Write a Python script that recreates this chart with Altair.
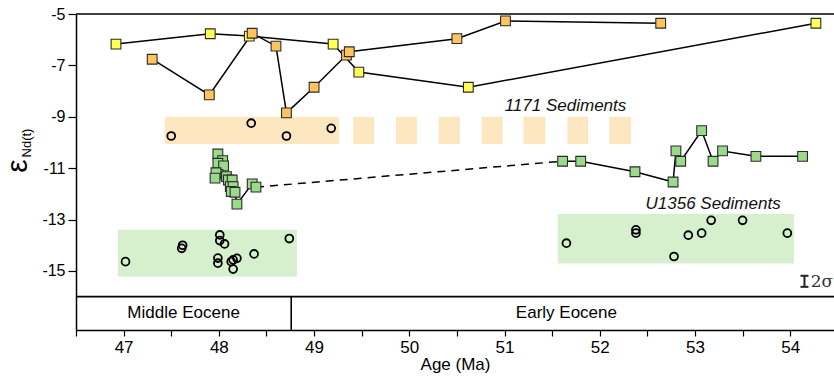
import altair as alt
import pandas as pd

# ---------------- data ----------------
yellow_age = [46.92, 47.91, 48.32, 49.20, 49.47, 50.62, 54.27]
yellow_eps = [-6.17, -5.77, -5.86, -6.17, -7.26, -7.85, -5.36]

orange_age = [47.30, 47.90, 48.35, 48.60, 48.71, 49.00, 49.34, 49.37, 50.50, 51.01, 52.64]
orange_eps = [-6.76, -8.15, -5.75, -6.25, -8.85, -7.85, -6.60, -6.47, -5.96, -5.27, -5.36]

cluster_age = [47.99, 48.04, 47.99, 48.05, 47.99, 47.97, 47.96, 48.08, 48.10, 48.14,
               48.12, 48.15, 48.13, 48.17, 48.19, 48.35, 48.39]
cluster_eps = [-10.45, -10.71, -10.81, -10.91, -11.24, -11.18, -11.39, -11.33, -11.46, -11.46,
               -11.72, -11.72, -11.91, -11.94, -12.40, -11.61, -11.74]

green_age = [51.61, 51.80, 52.37, 52.77, 52.80, 52.85, 53.07, 53.19, 53.29, 53.64, 54.13]
green_eps = [-10.73, -10.73, -11.14, -11.54, -10.33, -10.73, -9.54, -10.73, -10.33, -10.54, -10.54]

dash_age = [48.39, 51.61]
dash_eps = [-11.74, -10.73]

c1171_age = [47.50, 48.34, 48.71, 49.18]
c1171_eps = [-9.75, -9.25, -9.75, -9.45]

cl_age = [47.02, 47.61, 47.62, 48.01, 48.01, 48.06, 47.99, 47.99, 48.13, 48.15, 48.19, 48.15, 48.37, 48.74]
cl_eps = [-14.64, -14.12, -14.00, -13.60, -13.82, -13.95, -14.50, -14.70, -14.64, -14.57, -14.51, -14.93, -14.34, -13.74]

cr_age = [51.65, 52.38, 52.38, 52.93, 53.07, 53.17, 53.50, 53.97, 52.78]
cr_eps = [-13.92, -13.40, -13.53, -13.61, -13.53, -13.03, -13.03, -13.53, -14.44]

# shaded ranges
band_x1 = [47.43, 49.41, 49.86, 50.31, 50.76, 51.20, 51.66, 52.10, 46.94, 51.56]
band_x2 = [49.26, 49.63, 50.08, 50.53, 50.98, 51.43, 51.88, 52.33, 48.82, 54.04]
band_y1 = [-9.0] * 8 + [-13.40, -12.78]
band_y2 = [-10.06] * 8 + [-15.22, -14.71]
band_col = ["#FDE7C0"] * 8 + ["#D6F0CE", "#D6F0CE"]

epoch_names = ["Middle Eocene", "Early Eocene"]
epoch_mid = [47.63, 51.65]
epoch_boundary = 48.76

label_names = ["1171 Sediments", "U1356 Sediments"]
label_age = [51.64, 53.19]
label_eps = [-8.58, -12.39]

err_age = 54.15
err_lo, err_hi = -15.62, -15.19

x_ticks = [46.5 + 0.5 * i for i in range(16)]
y_ticks = [-5, -7, -9, -11, -13, -15]

# ---------------- scales / axes ----------------
FONT = "Liberation Sans"
X_DOM = [46.5, 54.46]
Y_DOM = [-17.3, -5]
xs = alt.Scale(domain=X_DOM, nice=False, zero=False)
ys = alt.Scale(domain=Y_DOM, nice=False, zero=False)

x_axis = alt.Axis(values=x_ticks,
                  labelExpr="datum.value % 1 == 0 ? format(datum.value, 'd') : ''",
                  title="Age (Ma)", grid=False, tickSize=6, labelFontSize=17, titleFontSize=17,
                  titleFontWeight="normal", labelPadding=3, titlePadding=1,
                  domainColor="black", tickColor="black", domainWidth=1.5, tickWidth=1.2,
                  labelColor="black", titleColor="black", labelFont=FONT, titleFont=FONT)
y_axis = alt.Axis(values=y_ticks, labelExpr="'-' + abs(datum.value)", title=None, grid=False,
                  tickSize=8, labelFontSize=16, labelPadding=3,
                  domainColor="black", tickColor="black", domainWidth=1.5, tickWidth=1.2,
                  labelColor="black", labelFont=FONT)


def X(f):
    return alt.X(f, type="quantitative", scale=xs, axis=x_axis)


def Y(f):
    return alt.Y(f, type="quantitative", scale=ys, axis=y_axis)


# ---------------- layers ----------------
bands = pd.DataFrame({"x": band_x1, "x2": band_x2, "y": band_y1, "y2": band_y2, "c": band_col})
band_layer = alt.Chart(bands).mark_rect().encode(
    x=X("x"), x2="x2", y=Y("y"), y2="y2", color=alt.Color("c:N", scale=None))

frame = pd.DataFrame({
    "x": [X_DOM[0], X_DOM[0], epoch_boundary],
    "x2": [X_DOM[1], X_DOM[1], epoch_boundary],
    "y": [-5, -16, -16],
    "y2": [-5, -16, Y_DOM[0]],
})
frame_layer = alt.Chart(frame).mark_rule(color="black", strokeWidth=1.6).encode(
    x=X("x"), x2="x2", y=Y("y"), y2="y2")

ydf = pd.DataFrame({"age": yellow_age, "eps": yellow_eps})
odf = pd.DataFrame({"age": orange_age, "eps": orange_eps})
cdf = pd.DataFrame({"age": cluster_age, "eps": cluster_eps, "o": list(range(len(cluster_age)))})
gdf = pd.DataFrame({"age": green_age, "eps": green_eps})
ddf = pd.DataFrame({"age": dash_age, "eps": dash_eps})

line_kw = dict(color="black", strokeWidth=1.5)
lines = [
    alt.Chart(ydf).mark_line(**line_kw).encode(x=X("age"), y=Y("eps")),
    alt.Chart(odf).mark_line(**line_kw).encode(x=X("age"), y=Y("eps")),
    alt.Chart(cdf).mark_line(**line_kw).encode(x=X("age"), y=Y("eps"), order="o:Q"),
    alt.Chart(gdf).mark_line(**line_kw).encode(x=X("age"), y=Y("eps")),
    alt.Chart(ddf).mark_line(color="black", strokeWidth=1.5, strokeDash=[8, 6]).encode(
        x=X("age"), y=Y("eps")),
]

circ = pd.DataFrame({"age": c1171_age + cl_age + cr_age, "eps": c1171_eps + cl_eps + cr_eps})
circle_layer = alt.Chart(circ).mark_point(shape="circle", filled=False, size=62, color="black",
                                          strokeWidth=1.8, opacity=1).encode(
    x=X("age"), y=Y("eps"))

sq_kw = dict(shape="square", filled=True, size=95, stroke="#2b2b2b", strokeWidth=1.1, opacity=1)
squares = [
    alt.Chart(ydf).mark_point(fill="#FFFF55", **sq_kw).encode(x=X("age"), y=Y("eps")),
    alt.Chart(odf).mark_point(fill="#FFC45E", **sq_kw).encode(x=X("age"), y=Y("eps")),
    alt.Chart(cdf).mark_point(fill="#9ADB8A", **sq_kw).encode(x=X("age"), y=Y("eps")),
    alt.Chart(gdf).mark_point(fill="#9ADB8A", **sq_kw).encode(x=X("age"), y=Y("eps")),
]

labels = pd.DataFrame({"t": label_names, "age": label_age, "eps": label_eps})
label_layer = alt.Chart(labels).mark_text(font=FONT, fontSize=17, fontStyle="italic",
                                          color="#111111").encode(
    x=X("age"), y=Y("eps"), text="t:N")

epochs = pd.DataFrame({"t": epoch_names, "age": epoch_mid, "eps": [-16.64, -16.64]})
epoch_layer = alt.Chart(epochs).mark_text(font=FONT, fontSize=17, color="black").encode(
    x=X("age"), y=Y("eps"), text="t:N")

err = pd.DataFrame({
    "x": [err_age, err_age - 0.042, err_age - 0.042],
    "x2": [err_age, err_age + 0.042, err_age + 0.042],
    "y": [err_lo, err_lo, err_hi],
    "y2": [err_hi, err_lo, err_hi],
})
err_layer = alt.Chart(err).mark_rule(color="#222222", strokeWidth=2).encode(
    x=X("x"), x2="x2", y=Y("y"), y2="y2")
sig = pd.DataFrame({"t": ["2σ"], "age": [54.215], "eps": [-15.42]})
sig_layer = alt.Chart(sig).mark_text(font="DejaVu Serif", fontSize=17, color="#333333",
                                     align="left").encode(
    x=X("age"), y=Y("eps"), text="t:N")

ylab1 = alt.Chart(pd.DataFrame({"t": ["ε"]})).mark_text(
    font="Liberation Sans", fontSize=30, angle=270, color="black").encode(
    x=alt.value(-58), y=alt.value(152), text="t:N")
ylab2 = alt.Chart(pd.DataFrame({"t": ["Nd(t)"]})).mark_text(
    font="Liberation Sans", fontSize=13, angle=270, color="black").encode(
    x=alt.value(-49), y=alt.value(129), text="t:N")

chart = alt.layer(
    band_layer, frame_layer, *lines, circle_layer, *squares,
    label_layer, epoch_layer, err_layer, sig_layer, ylab1, ylab2,
).properties(
    width=758, height=316,
    padding={"left": 76, "top": 14, "right": 0, "bottom": 51},
    autosize=alt.AutoSizeParams(type="none"),
    background="white",
).configure_view(stroke=None)

chart.save("out.html", embed_options={"renderer": "svg", "actions": False})
